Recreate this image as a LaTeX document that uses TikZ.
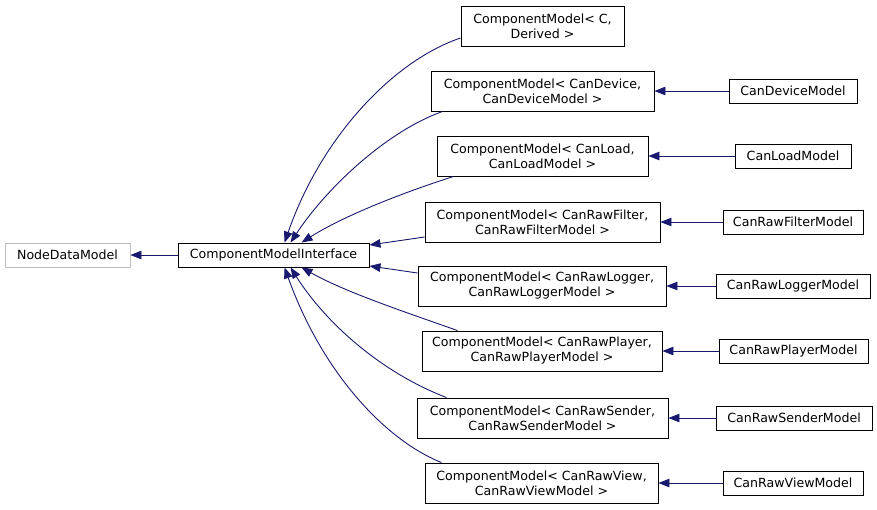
\documentclass[tikz,border=0pt]{standalone}
\usepackage{fontspec}
\setmainfont{DejaVu Sans}
\usetikzlibrary{arrows.meta,calc}
\definecolor{edgeblue}{HTML}{191970}
\definecolor{graybox}{HTML}{BFBFBF}
\begin{document}
\begin{tikzpicture}[x=1pt,y=-1pt,
  box/.style={draw=black,line width=0.9pt,fill=white,inner sep=0pt,align=center,
    font=\fontsize{12.6}{15}\selectfont,minimum height=24pt},
  tall/.style={minimum height=40pt},
  edge/.style={draw=edgeblue,line width=0.9pt,-{Triangle[length=11pt,width=8.5pt,fill=edgeblue]}}]
\useasboundingbox (0,0) rectangle (877,509);
\fill[white] (0,0) rectangle (877,509);
% nodes
\node[box,draw=graybox,minimum width=125pt] (ndm) at (67.5,255) {NodeDataModel};
\node[box,minimum width=191pt] (cmi) at (273.5,255) {ComponentModelInterface};
\node[box,tall,minimum width=163pt] (cmc) at (542.5,26) {ComponentModel< C,\\Derived >};
\node[box,tall,minimum width=223pt] (cmd) at (542.5,91) {ComponentModel< CanDevice,\\CanDeviceModel >};
\node[box,minimum width=128pt] (dev) at (793,91) {CanDeviceModel};
\node[box,tall,minimum width=211pt] (cml) at (542.5,156) {ComponentModel< CanLoad,\\CanLoadModel >};
\node[box,minimum width=116pt] (load) at (793,156) {CanLoadModel};
\node[box,tall,minimum width=235pt] (cmf) at (542.5,222) {ComponentModel< CanRawFilter,\\CanRawFilterModel >};
\node[box,minimum width=140pt] (filt) at (793,222) {CanRawFilterModel};
\node[box,tall,minimum width=248pt] (cmlg) at (542,286) {ComponentModel< CanRawLogger,\\CanRawLoggerModel >};
\node[box,minimum width=154pt] (logg) at (793,286) {CanRawLoggerModel};
\node[box,tall,minimum width=240pt] (cmp) at (542,351) {ComponentModel< CanRawPlayer,\\CanRawPlayerModel >};
\node[box,minimum width=149pt] (play) at (793.5,351) {CanRawPlayerModel};
\node[box,tall,minimum width=251pt] (cms) at (542.5,418) {ComponentModel< CanRawSender,\\CanRawSenderModel >};
\node[box,minimum width=156pt] (send) at (794,418) {CanRawSenderModel};
\node[box,tall,minimum width=233pt] (cmv) at (541.5,483) {ComponentModel< CanRawView,\\CanRawViewModel >};
\node[box,minimum width=140pt] (view) at (793,483) {CanRawViewModel};
% edges to left
\draw[edge] (cmi.west) -- (ndm.east);
\draw[edge] (dev.west) -- (cmd.east);
\draw[edge] (load.west) -- (cml.east);
\draw[edge] (filt.west) -- (cmf.east);
\draw[edge] (logg.west) -- (cmlg.east);
\draw[edge] (play.west) -- (cmp.east);
\draw[edge] (send.west) -- (cms.east);
\draw[edge] (view.west) -- (cmv.east);
% edges to interface (top)
\draw[edge] ([yshift=-12pt]cmc.west) .. controls (395,60) and (322,135) .. ([xshift=107pt]cmi.north west);
\draw[edge] ([xshift=12pt]cmd.south west) .. controls (385,132) and (325,190) .. ([xshift=113pt]cmi.north west);
\draw[edge] ([xshift=17pt]cml.south west) .. controls (405,192) and (345,215) .. ([xshift=124pt]cmi.north west);
\draw[edge] ([yshift=-15pt]cmf.west) -- ([yshift=10pt]cmi.east);
% edges to interface (bottom)
\draw[edge] ([yshift=13pt]cmlg.west) -- ([yshift=-11pt]cmi.east);
\draw[edge] ([xshift=36pt]cmp.north west) .. controls (405,312) and (345,292) .. ([xshift=124pt]cmi.south west);
\draw[edge] ([xshift=30pt]cms.north west) .. controls (380,372) and (325,322) .. ([xshift=113pt]cmi.south west);
\draw[edge] ([xshift=17pt]cmv.north west) .. controls (385,440) and (322,372) .. ([xshift=107pt]cmi.south west);
\end{tikzpicture}
\end{document}
